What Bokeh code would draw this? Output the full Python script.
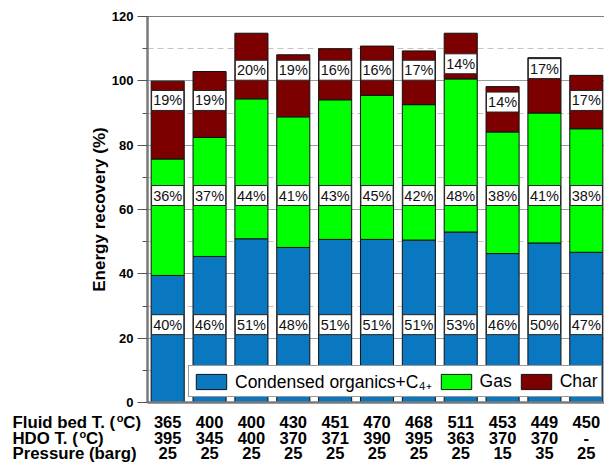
from bokeh.plotting import figure
from bokeh.layouts import column
from bokeh.models import (ColumnDataSource, Legend, LegendItem, Span, FixedTicker,
                          SingleIntervalTicker, Range1d)
from bokeh.embed import file_html
from bokeh.resources import INLINE
from bokeh.core.properties import value

# ---------------- data ----------------
runs = list(range(11))
condensed = [39.5, 45.4, 50.9, 48.2, 50.7, 50.7, 50.5, 53.0, 46.3, 49.6, 46.7]
gas = [36.2, 37.0, 43.5, 40.6, 43.4, 44.8, 42.1, 47.6, 37.8, 40.4, 38.4]
char = [24.2, 20.5, 20.4, 19.3, 15.9, 15.3, 16.7, 14.2, 14.1, 17.2, 16.6]

condensed_pct = ["40%", "46%", "51%", "48%", "51%", "51%", "51%", "53%", "46%", "50%", "47%"]
gas_pct = ["36%", "37%", "44%", "41%", "43%", "45%", "42%", "48%", "38%", "41%", "38%"]
char_pct = ["19%", "19%", "20%", "19%", "16%", "16%", "17%", "14%", "14%", "17%", "17%"]

fluid_bed_T = ["365", "400", "400", "430", "451", "470", "468", "511", "453", "449", "450"]
hdo_T = ["395", "345", "400", "370", "371", "390", "395", "363", "370", "370", "-"]
pressure = ["25", "25", "25", "25", "25", "25", "25", "25", "15", "35", "25"]

series_names = ["Condensed organics+C\u2084\u208A", "Gas", "Char"]
series_colors = ["#0a78c0", "#00ff00", "#7c0000"]

# label placement (layout, in y units)
cond_label_y = [24.2] * 11
gas_label_y = [64.35] * 11
char_label_y = [93.9, 93.9, 103.3, 103.3, 103.3, 103.3, 103.3, 105.3, 93.4, 103.8, 93.9]

# ---------------- layout ----------------
W = 604
H1 = 410          # chart figure height
H2 = 463 - H1     # condition table height
FL, FT, FB = 147, 16, 402
PITCH = 41.86
X0 = -(167.2 - FL) / PITCH
X1 = X0 + (W - FL) / PITCH


def sx(px):
    """page pixel -> x data units"""
    return X0 + (px - FL) / PITCH


FONT = "Liberation Sans"

src = ColumnDataSource(dict(
    x=runs, cond=condensed, gas=gas, char=char,
    cp=condensed_pct, gp=gas_pct, chp=char_pct,
    cy=cond_label_y, gy=gas_label_y, chy=char_label_y,
    fb=fluid_bed_T, hd=hdo_T, pr=pressure,
))

p = figure(width=W, height=H1, x_range=Range1d(X0, X1), y_range=Range1d(0, 120),
           output_backend="svg", toolbar_location=None,
           min_border_left=FL, min_border_right=0, min_border_top=FT,
           min_border_bottom=H1 - FB)
p.frame_align = False
p.outline_line_color = None
p.background_fill_color = "white"

# y axis
yax = p.yaxis[0]
yax.ticker = SingleIntervalTicker(interval=20, num_minor_ticks=2)
yax.axis_label = "Energy recovery (%)"
yax.axis_label_text_font = FONT
yax.axis_label_text_font_style = "bold"
yax.axis_label_text_font_size = "17px"
yax.axis_label_text_color = "black"
yax.axis_label_standoff = 0
yax.major_label_text_font = FONT
yax.major_label_text_font_style = "bold"
yax.major_label_text_font_size = "13px"
yax.major_label_text_color = "black"
yax.major_label_standoff = 4
yax.major_tick_out = 10
yax.major_tick_in = 0
yax.minor_tick_out = 5
yax.minor_tick_in = 0
yax.axis_line_color = "#7a7a7a"
yax.axis_line_width = 2.5
yax.major_tick_line_color = "#555555"
yax.minor_tick_line_color = "#555555"

# x axis: only a line
xax = p.xaxis[0]
xax.ticker = FixedTicker(ticks=[])
xax.major_tick_out = 0
xax.major_tick_in = 0
xax.minor_tick_out = 0
xax.minor_tick_in = 0
xax.major_label_standoff = 0
xax.axis_line_color = "#7a7a7a"
xax.axis_line_width = 2.5

# grids
p.xgrid.visible = False
p.ygrid.ticker = yax.ticker
p.ygrid.grid_line_color = "#9c9c9c"
p.ygrid.grid_line_width = 1.2
p.ygrid.minor_grid_line_color = "#c4c4c4"
p.ygrid.minor_grid_line_dash = "6 4"
p.ygrid.minor_grid_line_width = 1

# bars
rs = p.vbar_stack(["cond", "gas", "char"], x="x", width=0.79, source=src,
                  fill_color=series_colors, line_color="#111111", line_width=1)

# label boxes
BW, BH = 0.77, 6.2
for ycol, tcol in (("cy", "cp"), ("gy", "gp"), ("chy", "chp")):
    p.rect(x="x", y=ycol, width=BW, height=BH, source=src,
           fill_color="white", line_color="#222222", line_width=1)
    p.text(x="x", y=ycol, text=tcol, source=src, text_align="center",
           text_baseline="middle", text_font=value(FONT),
           text_font_size="14.5px", text_color="#111111")

# top frame line
p.add_layout(Span(location=120, dimension="width", line_color="black", line_width=1))

# legend
legend = Legend(items=[LegendItem(label=n, renderers=[r]) for n, r in zip(series_names, rs)],
                orientation="horizontal", location=(41, 5),
                border_line_color="#333333", border_line_width=1,
                background_fill_color="white", background_fill_alpha=1,
                padding=3, spacing=5, label_standoff=5, margin=0,
                glyph_width=38, glyph_height=19,
                label_text_font=FONT, label_text_font_size="17.5px",
                label_text_color="black")
p.add_layout(legend)

# ---------------- condition table under the chart ----------------
t = figure(width=W, height=H2, x_range=Range1d(sx(0), sx(W)), y_range=Range1d(H2, 0),
           output_backend="svg", toolbar_location=None,
           x_axis_location=None, y_axis_location=None,
           min_border_left=0, min_border_right=0, min_border_top=0, min_border_bottom=0)
t.frame_align = False
t.outline_line_color = None
t.grid.visible = False
t.background_fill_color = "white"

ROW_Y = [11.8, 27.6, 42.9]   # baselines within the table strip
VAL_FONT = "16.5px"
LAB_FONT = "16.8px"
for col, ry in zip(("fb", "hd", "pr"), ROW_Y):
    t.text(x="x", y=ry, text=col, source=src, text_align="center",
           text_baseline="alphabetic", text_font=value(FONT),
           text_font_style="bold", text_font_size=VAL_FONT, text_color="black")

row_labels = [("Fluid bed T. (", "C)", ROW_Y[0], 12 + 104.5),
              ("HDO T. (", "C)", ROW_Y[1], 12 + 67.2)]
for pre, post, ry, end in row_labels:
    t.text(x=[sx(12)], y=[ry], text=[pre], text_font=value(FONT), text_font_style="bold",
           text_font_size=LAB_FONT, text_align="left", text_baseline="alphabetic",
           text_color="black")
    t.text(x=[sx(end - 0.3)], y=[ry - 4.0], text=["o"], text_font=value(FONT),
           text_font_style="bold", text_font_size="11px", text_align="left",
           text_baseline="alphabetic", text_color="black")
    t.text(x=[sx(end + 6.3)], y=[ry], text=[post], text_font=value(FONT),
           text_font_style="bold", text_font_size=LAB_FONT, text_align="left",
           text_baseline="alphabetic", text_color="black")
t.text(x=[sx(12)], y=[ROW_Y[2]], text=["Pressure (barg)"], text_font=value(FONT),
       text_font_style="bold", text_font_size=LAB_FONT, text_align="left",
       text_baseline="alphabetic", text_color="black")

layout = column(p, t, spacing=0)
open("out.html", "w").write(file_html(layout, INLINE))
